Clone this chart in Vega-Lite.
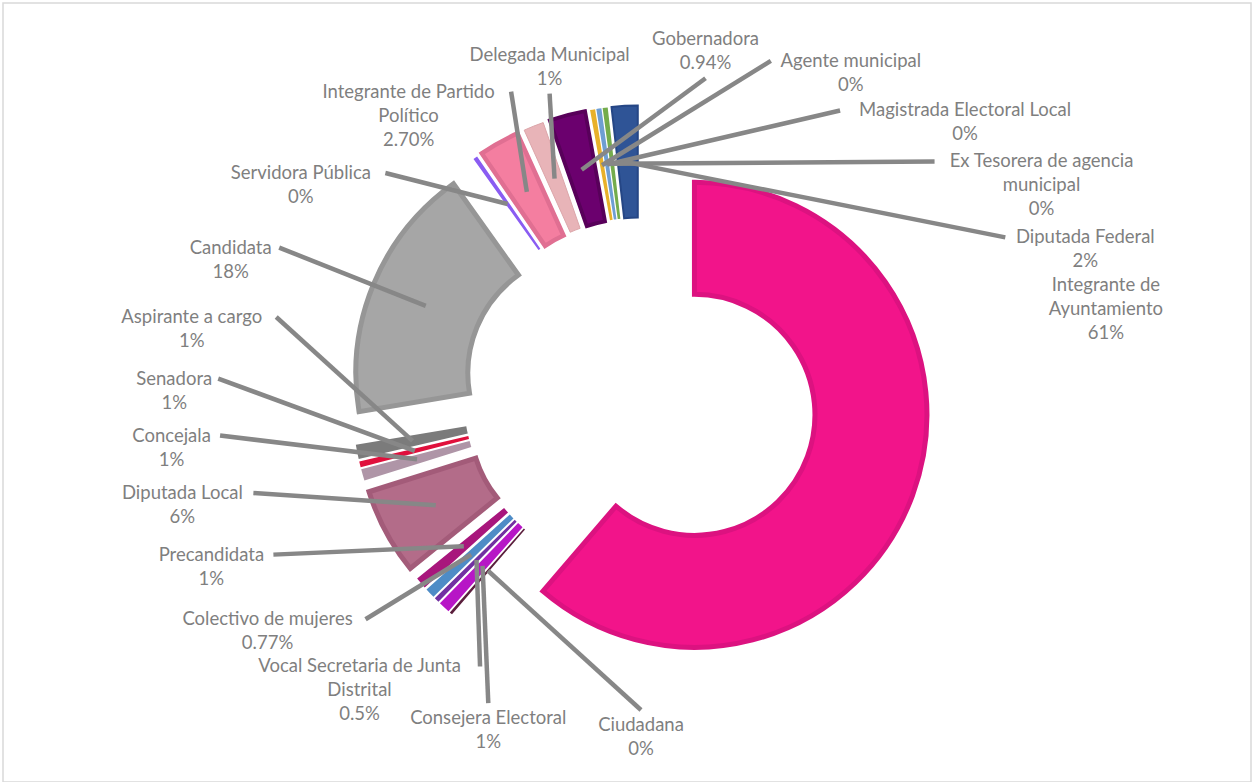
{
  "$schema": "https://vega.github.io/schema/vega-lite/v6.json",
  "width": 1254,
  "height": 782,
  "autosize": {"type": "fit", "contains": "padding"},
  "padding": {"left": 3, "top": 3, "right": 3, "bottom": 0},
  "background": "white",
  "config": {"view": {"stroke": "#D9D9D9", "strokeWidth": 1.5}},
  "params": [
    {"name": "cx", "expr": "width/2+14"},
    {"name": "cy", "expr": "height/2+2.5"},
    {"name": "p0", "value": 180},
    {"name": "pd", "value": 14.3},
    {"name": "pa", "value": 0.17},
    {"name": "pA", "value": 470},
    {"name": "pB", "value": 342},
    {"name": "pk", "value": 36},
    {"name": "pt", "value": 0.42}
  ],
  "data": {
    "values": [
      {"cat": "Integrante de Ayuntamiento", "value": 61.3, "label": "Integrante de\nAyuntamiento\n61%"},
      {"cat": "Ciudadana", "value": 0.2, "label": "Ciudadana\n0%"},
      {"cat": "Consejera Electoral", "value": 0.8, "label": "Consejera Electoral\n1%"},
      {"cat": "Vocal Secretaria de Junta Distrital", "value": 0.35, "label": "Vocal Secretaria de Junta\nDistrital\n0.5%"},
      {"cat": "Colectivo de mujeres", "value": 0.7, "label": "Colectivo de mujeres\n0.77%"},
      {"cat": "Precandidata", "value": 0.8, "label": "Precandidata\n1%"},
      {"cat": "Diputada Local", "value": 6.0, "label": "Diputada Local\n6%"},
      {"cat": "Concejala", "value": 0.8, "label": "Concejala\n1%"},
      {"cat": "Senadora", "value": 0.4, "label": "Senadora\n1%"},
      {"cat": "Aspirante a cargo", "value": 1.0, "label": "Aspirante a cargo\n1%"},
      {"cat": "Candidata", "value": 17.8, "label": "Candidata\n18%"},
      {"cat": "Servidora Pública", "value": 0.3, "label": "Servidora Pública\n0%"},
      {"cat": "Integrante de Partido Político", "value": 2.8, "label": "Integrante de Partido\nPolítico\n2.70%"},
      {"cat": "Delegada Municipal", "value": 1.4, "label": "Delegada Municipal\n1%"},
      {"cat": "Gobernadora", "value": 2.5, "label": "Gobernadora\n0.94%"},
      {"cat": "Agente municipal", "value": 0.35, "label": "Agente municipal\n0%"},
      {"cat": "Magistrada Electoral Local", "value": 0.35, "label": "Magistrada Electoral Local\n0%"},
      {"cat": "Ex Tesorera de agencia municipal", "value": 0.35, "label": "Ex Tesorera de agencia\nmunicipal\n0%"},
      {"cat": "Diputada Federal", "value": 1.8, "label": "Diputada Federal\n2%"}
    ]
  },
  "transform": [
    {"window": [{"op": "row_number", "as": "rank"}]},
    {"stack": "value", "groupby": [], "sort": [{"field": "rank", "order": "ascending"}], "as": ["v0", "v1"]}
  ],
  "layer": [
    {
      "mark": {"type": "arc", "outerRadius": 232.5, "innerRadius": 120.5},
      "encoding": {
        "theta": {"field": "v0", "type": "quantitative", "stack": null, "scale": {"domain": [0, 100]}},
        "theta2": {"field": "v1"},
        "x": {"value": {"expr": "cx+57*sin(PI*(datum.v0+datum.v1)/100)"}},
        "y": {"value": {"expr": "cy-57*cos(PI*(datum.v0+datum.v1)/100)"}},
        "color": {
          "field": "cat", "type": "nominal", "legend": null,
          "scale": {
            "domain": ["Integrante de Ayuntamiento", "Ciudadana", "Consejera Electoral", "Vocal Secretaria de Junta Distrital", "Colectivo de mujeres", "Precandidata", "Diputada Local", "Concejala", "Senadora", "Aspirante a cargo", "Candidata", "Servidora Pública", "Integrante de Partido Político", "Delegada Municipal", "Gobernadora", "Agente municipal", "Magistrada Electoral Local", "Ex Tesorera de agencia municipal", "Diputada Federal"],
            "range": ["#F2148A", "#5A1E3C", "#B716C6", "#7230A2", "#4E8CC6", "#A8167C", "#B36C89", "#AF95A7", "#E0103C", "#7B7B7B", "#A6A6A6", "#8A5CF2", "#F47EA0", "#E8B4B8", "#6B006E", "#E8B12A", "#6E9ED2", "#74AC4C", "#2F5496"]
          }
        },
        "stroke": {
          "field": "cat", "type": "nominal", "legend": null,
          "scale": {
            "domain": ["Integrante de Ayuntamiento", "Ciudadana", "Consejera Electoral", "Vocal Secretaria de Junta Distrital", "Colectivo de mujeres", "Precandidata", "Diputada Local", "Concejala", "Senadora", "Aspirante a cargo", "Candidata", "Servidora Pública", "Integrante de Partido Político", "Delegada Municipal", "Gobernadora", "Agente municipal", "Magistrada Electoral Local", "Ex Tesorera de agencia municipal", "Diputada Federal"],
            "range": ["#DC1280", "#4A1530", "#A010B0", "#602090", "#3F7AB4", "#90106A", "#A35B79", "#9F8597", "#C80C34", "#6B6B6B", "#969696", "#7A4CE2", "#E06F92", "#DCA6AA", "#58005A", "#D8A11A", "#5E8EC2", "#649C3C", "#254685"]
          }
        },
        "strokeWidth": {"field": "value", "type": "quantitative", "legend": null, "scale": {"domain": [1, 3], "range": [0, 5], "clamp": true}}
      }
    },
    {
      "transform": [{"filter": "datum.value < 50"}],
      "mark": {"type": "rule", "color": "#878787", "strokeWidth": 4.5, "strokeCap": "butt"},
      "encoding": {
        "x": {"value": {"expr": "cx+233*sin(PI*(datum.v0+datum.v1)/100)"}},
        "y": {"value": {"expr": "cy-233*cos(PI*(datum.v0+datum.v1)/100)"}},
        "x2": {"value": {"expr": "abs(sin((((p0+pd*((datum.rank+17)%19))*PI/180)+pa*sin(2*((p0+pd*((datum.rank+17)%19))*PI/180)))))>pt ? (cx+pA*sin((((p0+pd*((datum.rank+17)%19))*PI/180)+pa*sin(2*((p0+pd*((datum.rank+17)%19))*PI/180))))) + ((cx+233*sin(PI*(datum.v0+datum.v1)/100)) > (cx+pA*sin((((p0+pd*((datum.rank+17)%19))*PI/180)+pa*sin(2*((p0+pd*((datum.rank+17)%19))*PI/180))))) ? (length(split(datum.label,'\\n')[0])*4.5+8) : -(length(split(datum.label,'\\n')[0])*4.5+8)) : (cx+pA*sin((((p0+pd*((datum.rank+17)%19))*PI/180)+pa*sin(2*((p0+pd*((datum.rank+17)%19))*PI/180)))))"}},
        "y2": {"value": {"expr": "abs(sin((((p0+pd*((datum.rank+17)%19))*PI/180)+pa*sin(2*((p0+pd*((datum.rank+17)%19))*PI/180)))))>pt ? (cy-pB*cos((((p0+pd*((datum.rank+17)%19))*PI/180)+pa*sin(2*((p0+pd*((datum.rank+17)%19))*PI/180))))-pk*sin((((p0+pd*((datum.rank+17)%19))*PI/180)+pa*sin(2*((p0+pd*((datum.rank+17)%19))*PI/180))))) - (length(split(datum.label,'\\n'))-1)*12 : (cy-pB*cos((((p0+pd*((datum.rank+17)%19))*PI/180)+pa*sin(2*((p0+pd*((datum.rank+17)%19))*PI/180))))-pk*sin((((p0+pd*((datum.rank+17)%19))*PI/180)+pa*sin(2*((p0+pd*((datum.rank+17)%19))*PI/180))))) + ((cy-233*cos(PI*(datum.v0+datum.v1)/100)) > (cy-pB*cos((((p0+pd*((datum.rank+17)%19))*PI/180)+pa*sin(2*((p0+pd*((datum.rank+17)%19))*PI/180))))-pk*sin((((p0+pd*((datum.rank+17)%19))*PI/180)+pa*sin(2*((p0+pd*((datum.rank+17)%19))*PI/180))))) ? (length(split(datum.label,'\\n'))*12+3) : -(length(split(datum.label,'\\n'))*12+3))"}}
      }
    },
    {
      "mark": {"type": "text", "font": "Lato", "fontSize": 18.5, "lineBreak": "\n", "lineHeight": 24, "color": "#7F7F7F", "align": "center", "baseline": "middle"},
      "encoding": {
        "text": {"field": "label", "type": "nominal"},
        "x": {"value": {"expr": "cx+pA*sin((((p0+pd*((datum.rank+17)%19))*PI/180)+pa*sin(2*((p0+pd*((datum.rank+17)%19))*PI/180))))"}},
        "y": {"value": {"expr": "cy-pB*cos((((p0+pd*((datum.rank+17)%19))*PI/180)+pa*sin(2*((p0+pd*((datum.rank+17)%19))*PI/180))))-pk*sin((((p0+pd*((datum.rank+17)%19))*PI/180)+pa*sin(2*((p0+pd*((datum.rank+17)%19))*PI/180)))) - (length(split(datum.label,'\\n'))-1)*12"}}
      }
    }
  ]
}
